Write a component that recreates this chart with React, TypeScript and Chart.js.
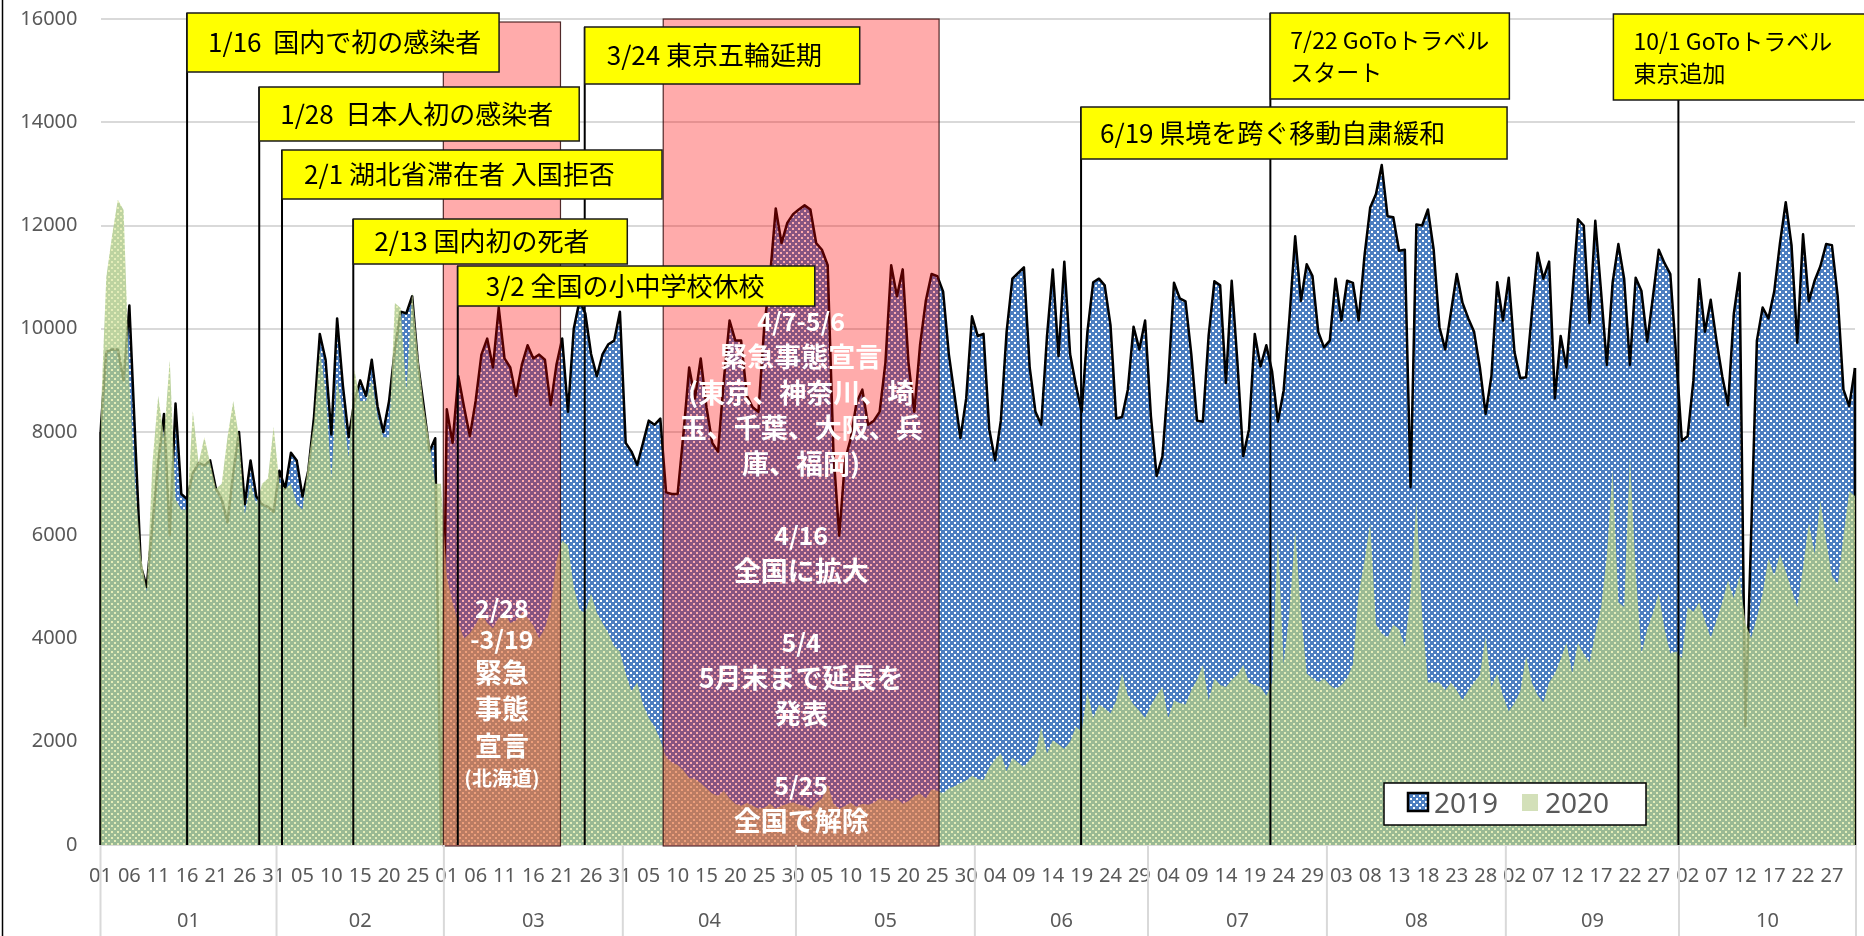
import { useEffect, useRef } from 'react';
import { Chart, registerables } from 'chart.js';

Chart.register(...registerables);

// ---- categories ----
const MONTHS = ['01', '02', '03', '04', '05', '06', '07', '08', '09', '10'];
const MONTH_DAYS = [31, 29, 31, 30, 31, 30, 31, 31, 30, 31];

// ---- 2019 values (same calendar day) ----
const v2019Jan = [8000, 9550, 9600, 9600, 9000, 10450, 7900, 5400, 5000, 6200, 7400, 8350, 6000, 8550, 6800, 6700, 7200, 7400, 7350, 7450, 6900, 6700, 6250, 7200, 8000, 6600, 7450, 6750, 6600, 6550, 6450];
const v2019Feb = [7250, 6900, 7600, 7450, 6750, 7250, 8300, 9900, 9400, 7950, 10200, 8900, 7900, 8600, 9000, 8700, 9400, 8500, 8000, 8600, 9600, 10330, 10300, 10630, 9340, 8500, 7620, 7880, 0];
const v2019Mar = [8440, 7790, 9080, 8480, 7920, 8600, 9500, 9810, 9250, 10410, 9425, 9250, 8700, 9300, 9680, 9425, 9500, 9400, 8520, 9300, 9810, 8390, 10000, 10540, 10300, 9510, 9080, 9510, 9700, 9770, 10330];
const v2019Apr = [7790, 7620, 7360, 7790, 8220, 8140, 8260, 6830, 6800, 6800, 7960, 9250, 8650, 9425, 8480, 7790, 7620, 9000, 10160, 9770, 9770, 8700, 8480, 8390, 10030, 11000, 12330, 11660, 12050, 12220];
const v2019May = [12310, 12390, 12310, 11660, 11530, 11230, 7600, 5990, 7450, 7880, 8570, 8820, 8140, 8220, 8390, 9340, 11230, 10630, 11150, 9340, 8390, 9680, 10540, 11060, 11020, 10720, 9500, 8700, 7880, 8650, 10240];
const v2019Jun = [9860, 9900, 8050, 7450, 8220, 9940, 10970, 11080, 11190, 9250, 8390, 8140, 9860, 11150, 9470, 11300, 9510, 8910, 8390, 9940, 10900, 10970, 10840, 10070, 8260, 8290, 8820, 10040, 9600, 10160];
const v2019Jul = [8310, 7150, 7530, 9000, 10890, 10590, 10530, 9510, 8220, 8200, 9860, 10920, 10840, 8950, 10930, 9340, 7530, 8050, 9900, 9270, 9680, 9170, 8200, 8800, 10200, 11790, 10540, 11250, 11020, 9940, 9640];
const v2019Aug = [9770, 10970, 10160, 10930, 10890, 10160, 11400, 12350, 12610, 13170, 12180, 12160, 11510, 11530, 6930, 12020, 12000, 12310, 11530, 10030, 9600, 10330, 11060, 10500, 10200, 9940, 9250, 8350, 9080, 10900, 10160];
const v2019Sep = [10990, 9550, 9040, 9060, 10290, 11470, 10970, 11300, 8650, 9860, 9250, 10630, 12120, 12000, 10110, 12090, 10720, 9300, 10890, 11640, 10970, 9300, 10990, 10730, 9750, 10630, 11530, 11270, 11060, 9500];
const v2019Oct = [7830, 7920, 9000, 10960, 9940, 10560, 9770, 9080, 8520, 10290, 11080, 2300, 6000, 9770, 10410, 10200, 10720, 11660, 12450, 11620, 9730, 11830, 10530, 10930, 11210, 11640, 11620, 10630, 8820, 8500, 9240];

// ---- 2020 values ----
const v2020Jan = [8200, 11000, 11800, 12500, 12300, 9000, 7000, 5600, 4900, 7400, 8700, 7900, 9400, 6700, 6500, 6500, 8400, 7400, 7900, 7400, 6900, 7000, 7900, 8600, 7900, 6400, 7000, 6600, 7000, 7100, 8100];
const v2020Feb = [7000, 6900, 7000, 6600, 6500, 7400, 8200, 9600, 8800, 7100, 9000, 8400, 7500, 9200, 8600, 8600, 9000, 8300, 7900, 7900, 10500, 10400, 8800, 10700, 9500, 8500, 7800, 7000, 7000];
const v2020Mar = [5200, 4700, 4300, 4000, 4100, 4270, 4500, 4300, 4200, 4400, 4500, 4300, 4350, 4500, 4400, 4250, 4000, 4200, 4600, 5500, 5900, 5800, 5000, 4550, 4500, 4870, 4500, 4300, 4100, 3850, 3750];
const v2020Apr = [3320, 2980, 3150, 2720, 2460, 2290, 2030, 1700, 1600, 1550, 1450, 1300, 1280, 1200, 1100, 1000, 950, 1050, 900, 800, 760, 820, 760, 700, 720, 800, 700, 760, 800, 830];
const v2020May = [780, 760, 700, 820, 900, 1170, 800, 700, 760, 820, 740, 800, 780, 820, 900, 870, 850, 900, 800, 850, 950, 1000, 900, 1080, 1050, 1000, 1100, 1140, 1200, 1250, 1340];
const v2020Jun = [1280, 1260, 1500, 1660, 1770, 1430, 1690, 1600, 1510, 1650, 1770, 2290, 1770, 2030, 1950, 1860, 2000, 2290, 2200, 2980, 2460, 2720, 2650, 2550, 2800, 3320, 2900, 2720, 2600, 2460];
const v2020Jul = [2700, 2900, 3060, 2460, 2800, 2750, 2720, 3000, 3200, 3490, 2800, 3230, 3100, 3060, 3200, 3300, 3490, 3150, 3100, 3060, 2890, 3150, 6000, 3500, 4500, 6100, 4500, 3320, 3230, 3150, 3230];
const v2020Aug = [3100, 3020, 3100, 3230, 3500, 4870, 5500, 6240, 4270, 4100, 4010, 4270, 4180, 3840, 4870, 6670, 4440, 3150, 3150, 3150, 3000, 3150, 3000, 2800, 3000, 3150, 3300, 4050, 3060, 3320, 2890];
const v2020Sep = [2590, 2750, 2980, 3660, 3150, 2900, 2760, 3150, 3320, 3600, 3920, 3320, 3920, 3700, 3530, 4100, 4600, 5600, 7280, 4700, 4610, 7530, 5300, 3710, 4180, 4500, 4870, 4180, 3710, 3750];
const v2020Oct = [3620, 4610, 4520, 4700, 4350, 4010, 4350, 4700, 5130, 4780, 5210, 4300, 4010, 4400, 4870, 5560, 5210, 5640, 5300, 4950, 4610, 5380, 6240, 5640, 6670, 5900, 5210, 5040, 5990, 6850, 6760];

const SERIES_2019 = [...v2019Jan, ...v2019Feb, ...v2019Mar, ...v2019Apr, ...v2019May, ...v2019Jun, ...v2019Jul, ...v2019Aug, ...v2019Sep, ...v2019Oct];
const SERIES_2020 = [...v2020Jan, ...v2020Feb, ...v2020Mar, ...v2020Apr, ...v2020May, ...v2020Jun, ...v2020Jul, ...v2020Aug, ...v2020Sep, ...v2020Oct];

const DAY_LABELS: string[] = [];
MONTH_DAYS.forEach((len) => {
  for (let d = 1; d <= len; d++) DAY_LABELS.push(String(d).padStart(2, '0'));
});

// ---- annotations (positions given as fractional category indices) ----
const EVENTS = [
  { idx: 15.0, lines: ['1/16  国内で初の感染者'], top: 13, bottom: 72, width: 312, size: 26, pad: 21, left: 0 },
  { idx: 27.5, lines: ['1/28  日本人初の感染者'], top: 87, bottom: 141, width: 320, size: 26, pad: 21, left: 0 },
  { idx: 31.45, lines: ['2/1 湖北省滞在者 入国拒否'], top: 150, bottom: 199, width: 380, size: 26, pad: 22, left: 0 },
  { idx: 43.8, lines: ['2/13 国内初の死者'], top: 219, bottom: 264, width: 274, size: 26, pad: 21, left: 0 },
  { idx: 61.9, lines: ['3/2 全国の小中学校休校'], top: 266, bottom: 306, width: 357, size: 26, pad: 28, left: 0 },
  { idx: 83.9, lines: ['3/24 東京五輪延期'], top: 27, bottom: 84, width: 275, size: 26, pad: 22, left: 0 },
  { idx: 169.9, lines: ['6/19 県境を跨ぐ移動自粛緩和'], top: 107, bottom: 159, width: 426, size: 26, pad: 19, left: 0 },
  { idx: 202.7, lines: ['7/22 GoToトラベル', 'スタート'], top: 13, bottom: 99, width: 239, size: 23, pad: 20, left: 0 },
  { idx: 273.4, lines: ['10/1 GoToトラベル', '東京追加'], top: 14, bottom: 100, width: 260, size: 23, pad: 20, left: -65 },
];

const PERIODS = [
  { from: 59.4, to: 79.7, top: 22 },
  { from: 97.5, to: 145.3, top: 19 },
];

const BIG_NOTE = ['4/7-5/6', '緊急事態宣言', '(東京、神奈川、埼', '玉、千葉、大阪、兵', '庫、福岡)', '', '4/16', '全国に拡大', '', '5/4', '5月末まで延長を', '発表', '', '5/25', '全国で解除'];
const HOKKAIDO_NOTE = [
  { t: '2/28', y: 608, size: 25 },
  { t: '-3/19', y: 639, size: 25 },
  { t: '緊急', y: 673, size: 27 },
  { t: '事態', y: 709, size: 27 },
  { t: '宣言', y: 746, size: 27 },
  { t: '(北海道)', y: 778, size: 20 },
];

const SERIES_NAMES = ['2019', '2020'];
const CJK = '"Noto Sans CJK JP", "Noto Sans", sans-serif';
const LATIN = '"Noto Sans", "Open Sans", sans-serif';

function makePattern(bg: string, dot: string, size: number, dots: number[][]) {
  const c = document.createElement('canvas');
  c.width = size;
  c.height = size;
  const g = c.getContext('2d')!;
  g.fillStyle = bg;
  g.fillRect(0, 0, size, size);
  for (const [x, y] of dots) {
    g.clearRect(x, y, 2, 2);
    g.fillStyle = dot;
    g.fillRect(x, y, 2, 2);
  }
  return g.createPattern(c, 'repeat')!;
}

export default function App() {
  const ref = useRef<HTMLCanvasElement>(null);

  useEffect(() => {
    const canvas = ref.current!;
    const bluePat = makePattern('#4C7EC1', 'rgba(255,255,255,0.85)', 6, [[0, 0], [3, 3]]);
    const greenPat = makePattern('rgba(172,200,136,0.8)', 'rgba(222,233,168,0.82)', 6, [[0, 0], [3, 3]]);
    const N = SERIES_2019.length;

    const overlay = {
      id: 'overlay',
      afterDatasetDraw(chart: any, args: any) {
        if (args.index !== 0) return;
        const { ctx } = chart;
        const xs = chart.scales.x;
        const ys = chart.scales.y;
        ctx.save();
        ctx.strokeStyle = '#000';
        ctx.lineWidth = 2.5;
        [0, N - 1].forEach((i) => {
          const x = xs.getPixelForValue(i);
          ctx.beginPath();
          ctx.moveTo(x, ys.getPixelForValue(SERIES_2019[i]));
          ctx.lineTo(x, ys.getPixelForValue(0));
          ctx.stroke();
        });
        ctx.restore();
      },
      afterDatasetsDraw(chart: any) {
        const { ctx } = chart;
        const xs = chart.scales.x;
        const bottom = chart.chartArea.bottom + 1;
        ctx.save();
        PERIODS.forEach((p) => {
          const x1 = xs.getPixelForValue(p.from);
          const x2 = xs.getPixelForValue(p.to);
          ctx.fillStyle = 'rgba(255,0,0,0.33)';
          ctx.fillRect(x1, p.top, x2 - x1, bottom - p.top);
          ctx.strokeStyle = 'rgba(50,10,10,0.85)';
          ctx.lineWidth = 1.2;
          ctx.strokeRect(x1, p.top, x2 - x1, bottom - p.top);
        });
        ctx.restore();
      },
      afterDraw(chart: any) {
        const { ctx, chartArea } = chart;
        const xs = chart.scales.x;
        ctx.save();
        // outer left frame
        ctx.strokeStyle = '#000';
        ctx.lineWidth = 1.5;
        ctx.beginPath();
        ctx.moveTo(2.5, 0);
        ctx.lineTo(2.5, 936);
        ctx.stroke();

        // month dividers + labels
        ctx.strokeStyle = '#D9D9D9';
        ctx.lineWidth = 2;
        ctx.fillStyle = '#595959';
        ctx.font = `20px ${LATIN}`;
        ctx.textAlign = 'center';
        ctx.textBaseline = 'middle';
        let start = 0;
        MONTHS.forEach((m, i) => {
          const end = start + MONTH_DAYS[i];
          const xa = Math.max(chartArea.left, xs.getPixelForValue(start - 0.5));
          const xb = Math.min(chartArea.right + 1, xs.getPixelForValue(end - 0.5));
          ctx.beginPath();
          ctx.moveTo(xa, chartArea.bottom);
          ctx.lineTo(xa, 936);
          ctx.stroke();
          if (i === MONTHS.length - 1) {
            ctx.beginPath();
            ctx.moveTo(xb, chartArea.bottom);
            ctx.lineTo(xb, 936);
            ctx.stroke();
          }
          ctx.fillText(m, (xa + xb) / 2, 921);
          start = end;
        });

        // event lines
        ctx.strokeStyle = '#000';
        ctx.lineWidth = 2;
        EVENTS.forEach((e) => {
          const x = xs.getPixelForValue(e.idx);
          ctx.beginPath();
          ctx.moveTo(x, e.top);
          ctx.lineTo(x, chartArea.bottom);
          ctx.stroke();
        });

        // yellow boxes
        EVENTS.forEach((e) => {
          const x = xs.getPixelForValue(e.idx) + e.left;
          ctx.fillStyle = '#FFFF00';
          ctx.fillRect(x, e.top, e.width, e.bottom - e.top);
          ctx.strokeStyle = '#1a1a1a';
          ctx.lineWidth = 1.5;
          ctx.strokeRect(x, e.top, e.width, e.bottom - e.top);
          ctx.fillStyle = '#000';
          ctx.font = `${e.size}px ${CJK}`;
          ctx.textAlign = 'left';
          ctx.textBaseline = 'middle';
          const mid = (e.top + e.bottom) / 2;
          const lh = 32;
          e.lines.forEach((t, k) => {
            const y = mid + (k - (e.lines.length - 1) / 2) * lh;
            ctx.fillText(t, x + e.pad, y);
          });
        });

        // white notes inside the emergency periods
        ctx.fillStyle = '#FFFFFF';
        ctx.textAlign = 'center';
        ctx.textBaseline = 'middle';
        const bigX = (xs.getPixelForValue(PERIODS[1].from) + xs.getPixelForValue(PERIODS[1].to)) / 2;
        BIG_NOTE.forEach((t, k) => {
          if (!t) return;
          const isNum = /^[0-9/\-]+$/.test(t);
          ctx.font = `bold ${isNum ? 25 : 27}px ${CJK}`;
          ctx.fillText(t, bigX, 321 + k * 35.7);
        });
        const hkX = (xs.getPixelForValue(PERIODS[0].from) + xs.getPixelForValue(PERIODS[0].to)) / 2;
        HOKKAIDO_NOTE.forEach((n) => {
          ctx.font = `bold ${n.size}px ${CJK}`;
          ctx.fillText(n.t, hkX, n.y);
        });

        // legend
        ctx.fillStyle = '#FFFFFF';
        ctx.fillRect(1384, 783, 262, 42);
        ctx.strokeStyle = '#000';
        ctx.lineWidth = 1.5;
        ctx.strokeRect(1384, 783, 262, 42);
        ctx.fillStyle = bluePat;
        ctx.fillRect(1408, 793, 20, 18);
        ctx.lineWidth = 2.5;
        ctx.strokeRect(1408, 793, 20, 18);
        ctx.fillStyle = '#D3E0B9';
        ctx.fillRect(1522, 794, 16, 17);
        ctx.fillStyle = '#595959';
        ctx.font = `28px ${LATIN}`;
        ctx.textAlign = 'left';
        ctx.textBaseline = 'middle';
        ctx.fillText(SERIES_NAMES[0], 1434, 805);
        ctx.fillText(SERIES_NAMES[1], 1545, 805);
        ctx.restore();
      },
    };

    const chart = new Chart(canvas, {
      type: 'line',
      data: {
        labels: DAY_LABELS,
        datasets: [
          {
            label: SERIES_NAMES[0],
            data: SERIES_2019,
            order: 2,
            fill: 'origin',
            backgroundColor: bluePat as any,
            borderColor: '#000000',
            borderWidth: 2.5,
            borderJoinStyle: 'round',
            pointRadius: 0,
            tension: 0,
          },
          {
            label: SERIES_NAMES[1],
            data: SERIES_2020,
            order: 1,
            fill: 'origin',
            backgroundColor: greenPat as any,
            borderColor: 'rgba(0,0,0,0)',
            borderWidth: 0,
            pointRadius: 0,
            tension: 0,
          },
        ],
      },
      options: {
        animation: false,
        responsive: false,
        devicePixelRatio: 1,
        layout: { padding: { left: 0, right: 9, top: 19, bottom: 0 } },
        plugins: { legend: { display: false }, tooltip: { enabled: false } },
        scales: {
          x: {
            type: 'category',
            grid: { display: false, drawTicks: true, tickLength: 19, tickColor: 'rgba(0,0,0,0)' },
            border: { display: false },
            ticks: {
              autoSkip: false,
              maxRotation: 0,
              minRotation: 0,
              padding: 0,
              color: '#595959',
              font: { family: 'Noto Sans', size: 20 },
              callback: (_v: any, i: number) => (i % 5 === 0 ? DAY_LABELS[i] : null),
            },
            afterFit: (s: any) => {
              s.height = 91;
            },
          },
          y: {
            min: 0,
            max: 16000,
            ticks: {
              stepSize: 2000,
              padding: 0,
              color: '#595959',
              font: { family: 'Noto Sans', size: 20 },
              callback: (v: any) => String(v),
            },
            grid: { color: '#D9D9D9', lineWidth: 2, drawTicks: true, tickLength: 23, tickColor: 'rgba(0,0,0,0)' },
            border: { display: false },
            afterFit: (s: any) => {
              s.width = 100.5;
            },
          },
        },
      },
      plugins: [overlay],
    });
    return () => chart.destroy();
  }, []);

  return (
    <div style={{ position: 'absolute', left: 0, top: 0, width: 1864, height: 936, background: '#fff' }}>
      <canvas ref={ref} width={1864} height={936} />
    </div>
  );
}
